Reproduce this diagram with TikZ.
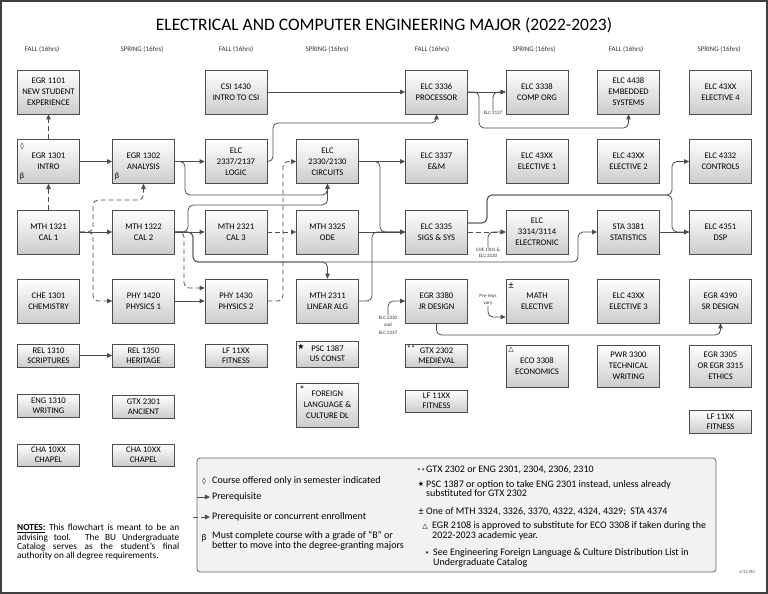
\documentclass[tikz,border=0pt]{standalone}
\usepackage{fontspec}
\setmainfont{Carlito}
\newfontfamily\djv{DejaVu Sans}
\usetikzlibrary{arrows.meta,shadows}
\begin{document}
\begin{tikzpicture}[x=1pt,y=-1pt,
  crs/.style={draw=black!70, line width=0.7pt, top color=white, bottom color=black!20,
    align=center, font=\fontsize{8.6}{11}\selectfont, minimum width=62pt, inner sep=1pt,
    general shadow={fill=black!30, shadow xshift=0.8pt, shadow yshift=-0.8pt}},
  big/.style={crs, minimum height=44pt},
  small/.style={crs, minimum height=23pt, font=\fontsize{8.6}{10}\selectfont},
  mid/.style={crs, minimum height=42pt},
  pre/.style={draw=black!70, line width=0.8pt, rounded corners=5pt, -{Triangle[length=5pt,width=4.5pt]}},
  cc/.style={pre, dash pattern=on 5pt off 3pt},
  hdr/.style={font=\fontsize{7}{8}\selectfont, text=black!80},
  note/.style={font=\fontsize{5}{6}\selectfont, align=center, inner sep=0.5pt, text=black!80},
  sym/.style={font=\fontsize{8}{9}\selectfont, inner sep=0pt},
  leg/.style={font=\fontsize{10}{9.8}\selectfont, align=left, anchor=west, inner sep=0pt}
]
\useasboundingbox (0,0) rectangle (768,594);
\draw[black!75, line width=1.2pt] (1,1) rectangle (767,593);

\node[font=\fontsize{17.5}{20}\selectfont] (title) at (384,25) {ELECTRICAL AND COMPUTER ENGINEERING MAJOR (2022-2023)};
\foreach \x/\t [count=\i] in {42/FALL, 142/SPRING, 236/FALL, 327/SPRING, 432/FALL, 534/SPRING, 626/FALL, 719/SPRING}
  \node[hdr] (h\i) at (\x,49) {\t\ (16hrs)};

% row 1
\node[big] (egr1101) at (48.5,92) {EGR 1101\\NEW STUDENT\\EXPERIENCE};
\node[big] (csi1430) at (236,92) {CSI 1430\\INTRO TO CSI};
\node[big] (elc3336) at (436.5,92) {ELC 3336\\PROCESSOR};
\node[big] (elc3338) at (537,92) {ELC 3338\\COMP ORG};
\node[big] (elc4438) at (628.5,92) {ELC 4438\\EMBEDDED\\SYSTEMS};
\node[big] (elce4) at (720.5,92) {ELC 43XX\\ELECTIVE 4};
% row 2
\node[big] (egr1301) at (48.5,161.5) {EGR 1301\\INTRO};
\node[big] (egr1302) at (143.5,161.5) {EGR 1302\\ANALYSIS};
\node[big] (elc2337) at (236,161.5) {ELC\\2337/2137\\LOGIC};
\node[big] (elc2330) at (327.5,161.5) {ELC\\2330/2130\\CIRCUITS};
\node[big] (elc3337) at (436.5,161.5) {ELC 3337\\E\&M};
\node[big] (elce1) at (537,161.5) {ELC 43XX\\ELECTIVE 1};
\node[big] (elce2) at (628.5,161.5) {ELC 43XX\\ELECTIVE 2};
\node[big] (elc4332) at (720.5,161.5) {ELC 4332\\CONTROLS};
% row 3
\node[big] (mth1321) at (48.5,232) {MTH 1321\\CAL 1};
\node[big] (mth1322) at (143.5,232) {MTH 1322\\CAL 2};
\node[big] (mth2321) at (236,232) {MTH 2321\\CAL 3};
\node[big] (mth3325) at (327.5,232) {MTH 3325\\ODE};
\node[big] (elc3335) at (436.5,232) {ELC 3335\\SIGS \& SYS};
\node[big] (elc3314) at (537,232) {ELC\\3314/3114\\ELECTRONIC};
\node[big] (sta3381) at (628.5,232) {STA 3381\\STATISTICS};
\node[big] (elc4351) at (720.5,232) {ELC 4351\\DSP};
% row 4
\node[big] (che1301) at (48.5,301) {CHE 1301\\CHEMISTRY};
\node[big] (phy1420) at (143.5,301) {PHY 1420\\PHYSICS 1};
\node[big] (phy1430) at (236,301) {PHY 1430\\PHYSICS 2};
\node[big] (mth2311) at (327.5,301) {MTH 2311\\LINEAR ALG};
\node[big] (egr3380) at (436.5,301) {EGR 3380\\JR DESIGN};
\node[big] (mathel) at (537,301) {MATH\\ELECTIVE};
\node[big] (elce3) at (628.5,301) {ELC 43XX\\ELECTIVE 3};
\node[big] (egr4390) at (720.5,301) {EGR 4390\\SR DESIGN};
% row 5
\node[small] (rel1310) at (48.5,355.5) {REL 1310\\SCRIPTURES};
\node[small] (rel1350) at (143.5,355.5) {REL 1350\\HERITAGE};
\node[small] (lf1) at (236,355.5) {LF 11XX\\FITNESS};
\node[small, minimum height=26pt] (psc1387) at (327.5,354) {PSC 1387\\US CONST};
\node[small] (gtx2302) at (436.5,355.5) {GTX 2302\\MEDIEVAL};
\node[mid] (eco3308) at (537,366) {ECO 3308\\ECONOMICS};
\node[mid] (pwr3300) at (628.5,366) {PWR 3300\\TECHNICAL\\WRITING};
\node[mid] (egr3305) at (720.5,366) {EGR 3305\\OR EGR 3315\\ETHICS};
% row 6
\node[small] (eng1310) at (48.5,405.5) {ENG 1310\\WRITING};
\node[small] (gtx2301) at (143.5,406.5) {GTX 2301\\ANCIENT};
\node[big] (flc) at (327.5,405) {FOREIGN\\LANGUAGE \&\\CULTURE DL};
\node[small, minimum height=22pt] (lf2) at (436.5,401) {LF 11XX\\FITNESS};
\node[small] (lf3) at (720.5,421.5) {LF 11XX\\FITNESS};
% row 7
\node[small, minimum height=22pt] (cha1) at (48.5,455) {CHA 10XX\\CHAPEL};
\node[small, minimum height=22pt] (cha2) at (143.5,455) {CHA 10XX\\CHAPEL};

% symbols in boxes
\node[sym, font=\djv\fontsize{7}{8}\selectfont] (s1) at (22,146) {◊};
\node[sym] (s2) at (22,176) {β};
\node[sym] (s3) at (117,176) {β};
\node[sym, font=\djv\fontsize{8}{9}\selectfont] (s4) at (301,347) {★};
\node[sym, font=\fontsize{11}{11}\selectfont] (s5) at (302,390) {*};
\node[sym, font=\fontsize{8.5}{9}\selectfont] (s6) at (411,348) {**};
\node[sym, font=\djv\fontsize{7}{8}\selectfont] (s7) at (511,350) {△};
\node[sym, font=\fontsize{10}{10}\selectfont] (s8) at (511,286) {±};

% small notes
\node[note] (n2137) at (493,113) {ELC 2137};
\node[note] (nche) at (488,253) {CHE 1301 \&\\ELC 2130};
\node[note, font=\fontsize{5}{7.5}\selectfont] (nelc) at (388,325) {ELC 2330\\and\\ELC 2337};
\node[note, font=\fontsize{5}{7}\selectfont] (npre) at (488,300) {Pre-reqs\\vary};

% connectors
\draw[cc] (egr1301) -- (egr1101);
\draw[cc] (mth1321) -- (egr1301);
\draw[pre] (egr1301) -- (egr1302);
\draw[pre] (egr1302) -- (elc2337);
\draw[pre] (elc2337.east) -| (273,123) -| (elc3336.south);
\draw[pre] (csi1430) -- (elc3336);
\draw[pre] (elc3336) -- (elc3338);
\draw[pre] (elc3336.east) -| (479,128) -| (elc4438.south);
\draw[pre] (n2137.north) |- (elc3338.west);
\draw[pre] (egr1302.east) -| (185,195) -| (elc2330.south);
\draw[pre] (mth1322.east) -| (188,205) -| (elc2330.south);
\draw[pre] (mth1322) -- (mth2321);
\draw[pre] (mth1322.east) -| (193,262) -| (mth2311.north);
\draw[pre] (mth1322.east) -| (193,262) -- (578,262) |- (sta3381.west);
\draw[pre] (mth1321) -- (mth1322);
\draw[cc] (mth1321.east) -| (93,200) -| (egr1302.south);
\draw[cc] (mth1321.east) -- (93,232) |- (phy1420.west);
\draw[cc] (mth1322.east) -- (184,232) |- ([yshift=13pt]phy1430.west);
\draw[pre] (phy1420) -- (phy1430);
\draw[cc] (phy1430.east) -- (283,301) |- (elc2330.west);
\draw[cc] (mth2321) -- (mth3325);
\draw[pre] (elc2330) -- (elc3337);
\draw[pre] (elc2330.east) -- (380,161.5) |- (elc3335.west);
\draw[pre] (mth3325) -- (elc3335);
\draw[pre] (mth2311.east) -- (372,301) |- (elc3335.west);
\draw[cc] (elc3335) -- (elc3314);
\draw[pre] ([yshift=9pt]elc3335.east) -- (487,223) |- (672,195) |- (elc4332.west);
\draw[pre] ([yshift=9pt]elc3335.east) -- (487,223) |- (672,195) |- (elc4351.west);
\draw[pre] (sta3381) -- (elc4351);
\draw[pre] (nche.north) |- (elc3314.west);
\draw[pre] (nelc.north) |- (egr3380.west);
\draw[pre] (npre.south) |- ([yshift=-16pt]mathel.west);
\draw[pre] (egr3380.south) -- (436.5,335) -| (egr4390.south);
\draw[pre] (rel1310) -- (rel1350);

% legend
\draw[rounded corners=3pt, draw=black!60, line width=0.8pt, fill=black!5] (197,458) rectangle (716,572);
\node[sym, font=\djv\fontsize{7}{8}\selectfont] (l1s) at (204,481) {◊};
\node[leg] (l1) at (212,481) {Course offered only in semester indicated};
\coordinate (la1) at (197,497); \coordinate (la2) at (210,497);
\draw[pre] (la1) -- (la2);
\node[leg] (l2) at (212,497) {Prerequisite};
\coordinate (lb1) at (193,517); \coordinate (lb2) at (210,517);
\draw[cc] (lb1) -- (lb2);
\node[leg] (l3) at (212,517) {Prerequisite or concurrent enrollment};
\node[sym, font=\fontsize{9}{9}\selectfont] (l4s) at (204,538) {β};
\node[leg] (l4) at (212,541) {Must complete course with a grade of “B” or\\better to move into the degree-granting majors};

\node[sym, font=\fontsize{8.5}{9}\selectfont] (r1s) at (421,471) {**};
\node[leg] (r1) at (426,470) {GTX 2302 or ENG 2301, 2304, 2306, 2310};
\node[sym, font=\djv\fontsize{7}{8}\selectfont] (r2s) at (421,484) {★};
\node[leg] (r2) at (426,488.5) {PSC 1387 or option to take ENG 2301 instead, unless already\\substituted for GTX 2302};
\node[sym, font=\fontsize{10}{10}\selectfont] (r3s) at (421,512) {±};
\node[leg] (r3) at (426,512) {One of MTH 3324, 3326, 3370, 4322, 4324, 4329;\ \ STA 4374};
\node[sym, font=\djv\fontsize{7}{8}\selectfont] (r4s) at (425,527) {△};
\node[leg] (r4) at (432,531) {EGR 2108 is approved to substitute for ECO 3308 if taken during the\\2022-2023 academic year.};
\node[sym, font=\fontsize{10}{10}\selectfont] (r5s) at (427,555) {*};
\node[leg] (r5) at (433,558) {See Engineering Foreign Language \& Culture Distribution List in\\Undergraduate Catalog};

\node[font=\fontsize{4.5}{5}\selectfont, text=black!70] (sig) at (747,572) {4/22 SM};

\node[anchor=north west, inner sep=0pt, align=left, font=\fontsize{9.3}{9.4}\selectfont] (notes) at (17,524) {%
\makebox[162pt][s]{\underline{\textbf{NOTES:}} This flowchart is meant to be an}\\
\makebox[162pt][s]{advising tool. The BU Undergraduate}\\
\makebox[162pt][s]{Catalog serves as the student’s final}\\
authority on all degree requirements.};
\end{tikzpicture}
\end{document}
